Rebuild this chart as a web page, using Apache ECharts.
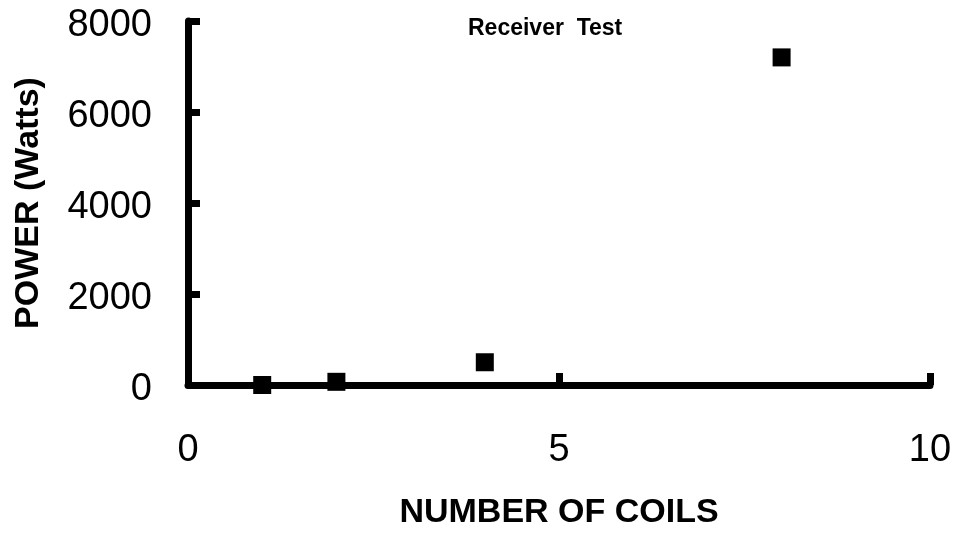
<!DOCTYPE html>
<html>
<head>
<meta charset="utf-8">
<script src="https://cdn.jsdelivr.net/npm/echarts@6/dist/echarts.min.js"></script>
<style>
  html, body { margin: 0; padding: 0; background: #ffffff; }
  #chart { width: 958px; height: 535px; }
</style>
</head>
<body>
<div id="chart"></div>
<script>
// Receiver test: power measured against number of coils
const coils = [1, 2, 4, 8];
const powerWatts = [0, 70, 500, 7200];

const titleText = 'Receiver  Test';
const xName = 'NUMBER OF COILS';
const yName = 'POWER (Watts)';

const FONT = 'Arial, "Liberation Sans", sans-serif';

const chart = echarts.init(document.getElementById('chart'), null, { renderer: 'canvas' });

const axisLine = { show: true, onZero: false, lineStyle: { color: '#000', width: 7 } };
const axisTick = { show: true, inside: true, length: 12, lineStyle: { color: '#000', width: 7 } };

chart.setOption({
  animation: false,
  backgroundColor: '#ffffff',
  title: {
    text: titleText,
    left: 468,
    top: 17,
    padding: 0,
    textStyle: { fontFamily: FONT, fontSize: 23, fontWeight: 'bold', color: '#000' }
  },
  grid: { left: 188, right: 28, top: 21, bottom: 147, containLabel: false },
  xAxis: {
    type: 'value',
    min: 0,
    max: 10,
    interval: 5,
    name: xName,
    nameLocation: 'middle',
    nameGap: 111,
    nameTextStyle: { fontFamily: FONT, fontSize: 34, fontWeight: 'bold', color: '#000' },
    axisLine: axisLine,
    axisTick: axisTick,
    splitLine: { show: false },
    axisLabel: { margin: 47, fontFamily: FONT, fontSize: 38, color: '#000' }
  },
  yAxis: {
    type: 'value',
    min: 0,
    max: 8000,
    interval: 2000,
    name: yName,
    nameLocation: 'middle',
    nameGap: 142,
    nameTextStyle: { fontFamily: FONT, fontSize: 34, fontWeight: 'bold', color: '#000' },
    axisLine: axisLine,
    axisTick: axisTick,
    splitLine: { show: false },
    axisLabel: {
      margin: 36,
      color: '#000',
      formatter: (v) => '{v|' + v + '}',
      rich: {
        v: { fontFamily: FONT, fontSize: 38, color: '#000', padding: [10, 0, 0, 0] }
      }
    }
  },
  series: [{
    type: 'scatter',
    symbol: 'rect',
    symbolSize: 18,
    itemStyle: { color: '#000', opacity: 1 },
    data: coils.map((c, i) => [c, powerWatts[i]])
  }]
});
</script>
</body>
</html>
